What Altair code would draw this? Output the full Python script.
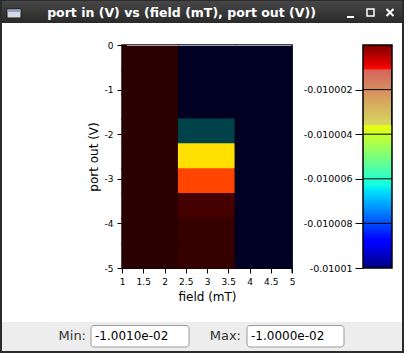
import altair as alt
import numpy as np
import pandas as pd

FONT = "DejaVu Sans"

# ---------------- data ----------------
field_mT = [1.0, 3.0, 5.0]
port_out_V = [0.0, -0.625, -1.25, -1.875, -2.5, -3.125, -3.75, -4.375, -5.0]
# port in (V), one list per field column, rows ordered as port_out_V
port_in_field_1 = [-0.0100001, -0.0100001, -0.0100001, -0.0100001, -0.0100001,
                   -0.0100001, -0.0100001, -0.0100001, -0.0100001]
port_in_field_3 = [-0.010010, -0.010010, -0.010010, -0.010007, -0.010004,
                   -0.010003, -0.0100015, -0.0100008, -0.0100008]
port_in_field_5 = [-0.010010, -0.010010, -0.010010, -0.010010, -0.010010,
                   -0.010010, -0.010010, -0.010010, -0.010010]

x_ticks = [1, 1.5, 2, 2.5, 3, 3.5, 4, 4.5, 5]
y_ticks = [0, -1, -2, -3, -4, -5]

# image colour lookup (value -> colour)
level_values = [-0.010010, -0.010007, -0.010004, -0.010003, -0.0100015, -0.0100008, -0.0100001]
level_colors = ["#000022", "#00424a", "#ffe000", "#ff4400", "#450000", "#370000", "#2a0000"]

cbar_min, cbar_max = -0.01001, -0.01000
cbar_ticks = [-0.010002, -0.010004, -0.010006, -0.010008, -0.01001]
cbar_band = [-0.0100036, -0.0100011]

window_title = "port in (V) vs (field (mT), port out (V))"
min_label, max_label = "Min:", "Max:"
min_text, max_text = "-1.0010e-02", "-1.0000e-02"

# ---------------- tables ----------------
fe = np.linspace(field_mT[0], field_mT[-1], len(field_mT) + 1)
pe = np.linspace(port_out_V[0], port_out_V[-1], len(port_out_V) + 1)
rows = []
for i, col in enumerate([port_in_field_1, port_in_field_3, port_in_field_5]):
    for j, v in enumerate(col):
        rows.append(dict(field=field_mT[i], port_out=port_out_V[j],
                         f0=fe[i], f1=fe[i + 1], p0=pe[j], p1=pe[j + 1], port_in=v))
cells = pd.DataFrame(rows)

# jet colour map (matplotlib segment data) for the colour bar gradient
_r = ([0, 0.35, 0.66, 0.89, 1], [0, 0, 1, 1, 0.5])
_g = ([0, 0.125, 0.375, 0.64, 0.91, 1], [0, 0, 1, 1, 0, 0])
_b = ([0, 0.11, 0.34, 0.65, 1], [0.5, 1, 1, 0, 0])
stops = []
for o in [0, 0.11, 0.125, 0.34, 0.35, 0.375, 0.5, 0.64, 0.65, 0.66, 0.75, 0.89, 0.91, 1]:
    r = np.interp(o, *_r); g = np.interp(o, *_g); b = np.interp(o, *_b)
    stops.append(alt.GradientStop(color="#%02x%02x%02x" % (int(r * 255), int(g * 255), int(b * 255)), offset=o))

one = pd.DataFrame({"a": [0]})

# ---------------- heatmap ----------------
xscale = alt.Scale(domain=[1, 5], nice=False, zero=False)
yscale = alt.Scale(domain=[-5, 0], nice=False, zero=False)
cscale = alt.Scale(domain=level_values, range=level_colors, interpolate="rgb")

axis_common = dict(grid=False, domainColor="black", tickColor="black", labelColor="black",
                   titleColor="black", labelFont=FONT, titleFont=FONT, labelFontSize=9,
                   titleFontSize=12, titleFontWeight="normal", tickSize=5, labelPadding=4,
                   labelFlush=False, labelExpr="toString(datum.value)")

heat = alt.Chart(cells).mark_rect(strokeWidth=1.5).encode(
    x=alt.X("f0:Q", scale=xscale,
            axis=alt.Axis(values=x_ticks, title="field (mT)", titlePadding=5, **axis_common)),
    x2="f1:Q",
    y=alt.Y("p0:Q", scale=yscale,
            axis=alt.Axis(values=y_ticks, title="port out (V)", titlePadding=4, **axis_common)),
    y2="p1:Q",
    color=alt.Color("port_in:Q", scale=cscale, legend=None),
    stroke=alt.Stroke("port_in:Q", scale=cscale, legend=None),
)

top_line = alt.Chart(one).mark_rule(color="#a0a0a0", strokeWidth=1).encode(
    x=alt.value(5), x2=alt.value(170), y=alt.value(0.5))
right_line = alt.Chart(one).mark_rule(color="black", strokeWidth=1).encode(
    x=alt.value(170), y=alt.value(0), y2=alt.value(228))

# ---------------- colour bar ----------------
cscale_y = alt.Scale(domain=[cbar_min, cbar_max], nice=False, zero=False)
cbar_axis = alt.Axis(orient="left", offset=-241, values=cbar_ticks, labelExpr="toString(datum.value)",
                     title=None, grid=False, domain=False, tickSize=8, labelPadding=3,
                     tickColor="black", labelColor="black", labelFont=FONT, labelFontSize=9.5)
cbar_df = pd.DataFrame({"v": [cbar_min], "v2": [cbar_max]})
grad = alt.Chart(cbar_df).mark_rect(
    fill=alt.Gradient(gradient="linear", stops=stops, x1=0, x2=0, y1=1, y2=0)
).encode(x=alt.value(241), x2=alt.value(270),
         y=alt.Y("v:Q", scale=cscale_y, axis=cbar_axis), y2="v2:Q")
tick_lines = alt.Chart(pd.DataFrame({"v": cbar_ticks[:-1]})).mark_rule(color="black", strokeWidth=1).encode(
    x=alt.value(241), x2=alt.value(270), y=alt.Y("v:Q", scale=cscale_y, axis=cbar_axis))
band = alt.Chart(pd.DataFrame({"v": [cbar_band[0]], "v2": [cbar_band[1]]})).mark_rect(
    color="#b0b4bc", opacity=0.5).encode(
    x=alt.value(241), x2=alt.value(270), y=alt.Y("v:Q", scale=cscale_y, axis=cbar_axis), y2="v2:Q")
band_edge = alt.Chart(pd.DataFrame({"v": [cbar_band[0]], "v2": [cbar_band[1]]})).mark_rule(
    color="#1f4a6e", strokeWidth=1).encode(
    x=alt.value(269.5), y=alt.Y("v:Q", scale=cscale_y, axis=cbar_axis), y2="v2:Q")
cbar_frame = alt.Chart(cbar_df).mark_rect(fill=None, stroke="black", strokeWidth=1.5).encode(
    x=alt.value(241), x2=alt.value(270), y=alt.Y("v:Q", scale=cscale_y, axis=cbar_axis), y2="v2:Q")
cbar = alt.layer(grad, band, tick_lines, band_edge, cbar_frame)

# ---------------- window chrome ----------------
title_bar = alt.Chart(one).mark_rect(
    fill=alt.Gradient(gradient="linear", stops=[alt.GradientStop(color="#484848", offset=0),
                                                 alt.GradientStop(color="#2a2a2a", offset=1)],
                      x1=0, x2=0, y1=0, y2=1)
).encode(x=alt.value(-122), x2=alt.value(282), y=alt.value(-45), y2=alt.value(-22))
icon = alt.Chart(one).mark_rect(fill="#d4dae3", stroke="#1a1a1a", strokeWidth=1).encode(
    x=alt.value(-115), x2=alt.value(-101), y=alt.value(-36), y2=alt.value(-27))
icon_top = alt.Chart(one).mark_rect(fill="#8ea3bf").encode(
    x=alt.value(-114.5), x2=alt.value(-101.5), y=alt.value(-35.5), y2=alt.value(-33))
title_txt = alt.Chart(one).mark_text(text=window_title, font=FONT, fontSize=12.5, fontWeight="bold",
                                     color="white", align="center", baseline="middle").encode(
    x=alt.value(59.5), y=alt.value(-32))
btn_min = alt.Chart(one).mark_rect(fill="white").encode(
    x=alt.value(225), x2=alt.value(232), y=alt.value(-29), y2=alt.value(-27))
btn_max = alt.Chart(one).mark_rect(fill=None, stroke="white", strokeWidth=1.5).encode(
    x=alt.value(245), x2=alt.value(252), y=alt.value(-36), y2=alt.value(-29))
btn_x1 = alt.Chart(one).mark_rule(color="white", strokeWidth=2).encode(
    x=alt.value(264.5), y=alt.value(-36), x2=alt.value(271.5), y2=alt.value(-29))
btn_x2 = alt.Chart(one).mark_rule(color="white", strokeWidth=2).encode(
    x=alt.value(264.5), y=alt.value(-29), x2=alt.value(271.5), y2=alt.value(-36))

bottom_bar = alt.Chart(one).mark_rect(fill="#ededed").encode(
    x=alt.value(-122), x2=alt.value(282), y=alt.value(277), y2=alt.value(308))
frame = alt.Chart(one).mark_rect(fill=None, stroke="#2b2b2b", strokeWidth=2).encode(
    x=alt.value(-121), x2=alt.value(281), y=alt.value(-45), y2=alt.value(307))

def field_box(x0, x1):
    return alt.Chart(one).mark_rect(fill="white", stroke="#9a9a9a", strokeWidth=1, cornerRadius=3).encode(
        x=alt.value(x0), x2=alt.value(x1), y=alt.value(280.5), y2=alt.value(302))

min_lab = alt.Chart(one).mark_text(text=min_label, font=FONT, fontSize=13, color="#333333",
                                   align="right", baseline="middle").encode(x=alt.value(-36), y=alt.value(291))
max_lab = alt.Chart(one).mark_text(text=max_label, font=FONT, fontSize=13, color="#333333",
                                   align="right", baseline="middle").encode(x=alt.value(119), y=alt.value(291))
min_val = alt.Chart(one).mark_text(text=min_text, font=FONT, fontSize=12, color="black",
                                   align="left", baseline="middle").encode(x=alt.value(-27), y=alt.value(291))
max_val = alt.Chart(one).mark_text(text=max_text, font=FONT, fontSize=12, color="black",
                                   align="left", baseline="middle").encode(x=alt.value(129), y=alt.value(291))

main = alt.layer(heat, top_line, right_line)

chart = alt.layer(
    title_bar, bottom_bar, main, cbar,
    icon, icon_top, title_txt, btn_min, btn_max, btn_x1, btn_x2,
    field_box(-31, 67), field_box(125, 222), min_lab, max_lab, min_val, max_val, frame,
).resolve_scale(y="independent").properties(
    width=170, height=223,
    autosize=alt.AutoSizeParams(type="none"),
    padding={"left": 122, "top": 45, "right": 112, "bottom": 85},
    background="white",
).configure_view(stroke=None)

chart.save("out.html", embed_options={"renderer": "svg", "actions": False})
